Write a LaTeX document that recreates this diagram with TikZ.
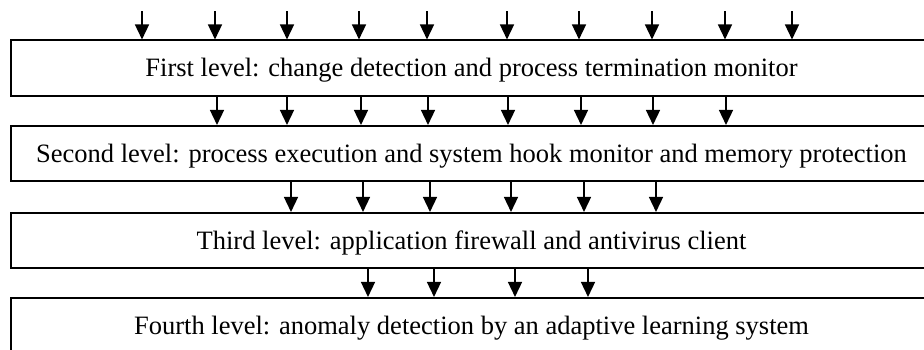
\documentclass[tikz,border=0pt]{standalone}
\usepackage{fontspec}
\setmainfont{Liberation Serif}
\usetikzlibrary{arrows.meta}
\begin{document}
\begin{tikzpicture}[x=1pt,y=-1pt,
  levelbox/.style={draw, line width=1.6pt, minimum width=921pt, minimum height=55.5pt,
    inner sep=0pt, text height=17.3pt, text depth=0pt,
    font=\fontsize{26.5}{30}\selectfont},
  flow/.style={line width=1.5pt, -{Triangle[width=14pt,length=15pt]}}]
\useasboundingbox (0,0) rectangle (924,349);
% the four protection levels
\node[levelbox] (b1) at (471.5,68)  {First level: change detection and process termination monitor};
\node[levelbox] (b2) at (471.5,153.5) {Second level: process execution and system hook monitor and memory protection};
\node[levelbox] (b3) at (471.5,240.5) {Third level: application firewall and antivirus client};
\node[levelbox] (b4) at (471.5,325.5) {Fourth level: anomaly detection by an adaptive learning system};
% incoming events on top of the first level
\foreach \x [count=\i] in {142,215,287,359,427,507,579,652,725,792}{
  \coordinate (t\i) at (\x,11);
  \draw[flow] (t\i) -- (t\i |- b1.north);
}
% events passed on from level to level
\foreach \x in {217,287,361,428,508,581,653,726}
  \draw[flow] (\x,0 |- b1.south) -- (\x,0 |- b2.north);
\foreach \x in {291,363,430,511,584,656}
  \draw[flow] (\x,0 |- b2.south) -- (\x,0 |- b3.north);
\foreach \x in {368,434,515,588}
  \draw[flow] (\x,0 |- b3.south) -- (\x,0 |- b4.north);
\end{tikzpicture}
\end{document}
